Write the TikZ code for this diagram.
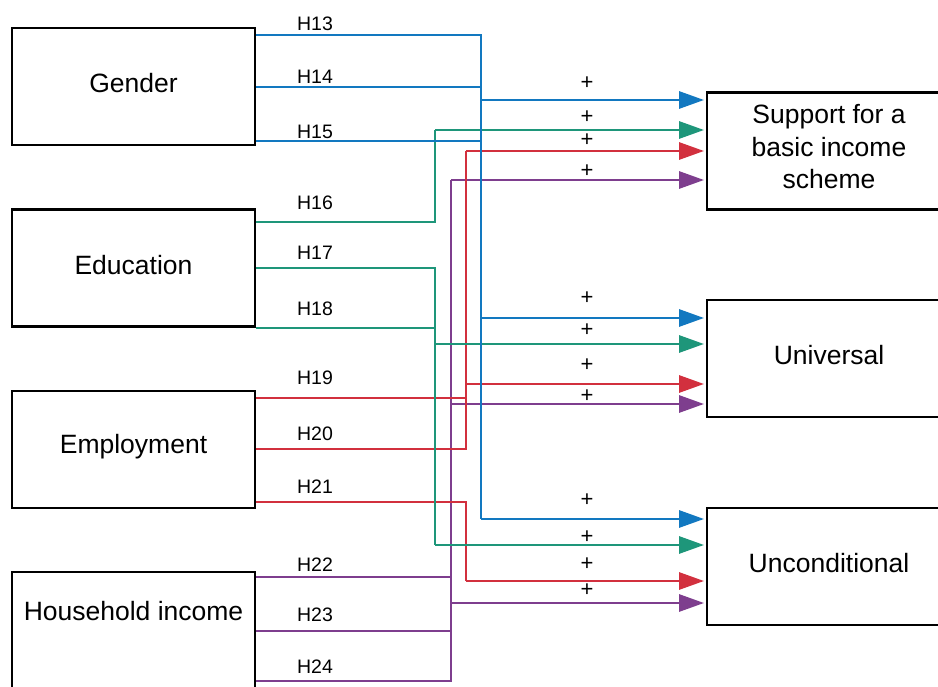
\documentclass[tikz,border=0pt]{standalone}
\usepackage{fontspec}
\setmainfont{Liberation Sans}
\usetikzlibrary{arrows.meta}
\definecolor{cblue}{RGB}{18,120,192}
\definecolor{cgreen}{RGB}{30,150,122}
\definecolor{cred}{RGB}{210,48,62}
\definecolor{cpurple}{RGB}{126,62,142}
\begin{document}
\begin{tikzpicture}[x=1pt,y=-1pt,
  box/.style={draw=black,line width=2.9pt,minimum width=243pt,minimum height=117pt,inner sep=0pt},
  btext/.style={inner sep=0pt,font=\fontsize{26.5}{32.5}\selectfont,align=center},
  hlab/.style={font=\fontsize{19.5}{22}\selectfont,inner sep=0pt},
  plus/.style={font=\fontsize{22}{24}\selectfont,inner sep=0pt},
  conn/.style={line width=2.9pt},
  arr/.style={conn,-{Triangle[length=25pt,width=17pt]},shorten >=1.5pt}]
\clip (0,0) rectangle (938,687);
\fill[white] (0,0) rectangle (938,687);
% boxes
\node[box] (gender) at (133.5,86.5) {};
\node[box] (educ) at (133.5,268) {};
\node[box] (employ) at (133.5,449.5) {};
\node[box,minimum height=140pt] (house) at (133.5,642) {};
\node[box,minimum width=244pt] (support) at (829,151) {};
\node[box,minimum width=244pt] (universal) at (829,358.5) {};
\node[box,minimum width=244pt] (uncond) at (829,566.5) {};
% box texts
\node[btext] (gendertext) at (133.5,83.5) {Gender};
\node[btext] (eductext) at (133.5,265) {Education};
\node[btext] (employtext) at (133.5,446.5) {Employment};
\node[btext] (housetext) at (133.5,611) {Household income};
\node[btext] (supporttext) at (829,147) {Support for a\\basic income\\scheme};
\node[btext] (universaltext) at (829,355.5) {Universal};
\node[btext] (uncondtext) at (829,563.5) {Unconditional};
% purple
\begin{scope}[cpurple]
\draw[conn] (house.east |- 0,577) -- (451,577);
\draw[conn] (house.east |- 0,631) -- (451,631);
\draw[conn] (house.east |- 0,681) -- (451,681) -- (451,180);
\draw[arr] (451,180) -- (support.west |- 0,180);
\draw[arr] (451,404) -- (universal.west |- 0,404);
\draw[arr] (451,603) -- (uncond.west |- 0,603);
\end{scope}
% red
\begin{scope}[cred]
\draw[conn] (employ.east |- 0,398) -- (466,398);
\draw[conn] (employ.east |- 0,449) -- (466,449) -- (466,151);
\draw[arr] (466,151) -- (support.west |- 0,151);
\draw[arr] (466,384) -- (universal.west |- 0,384);
\draw[conn] (employ.east |- 0,502) -- (466,502) -- (466,581);
\draw[arr] (466,581) -- (uncond.west |- 0,581);
\end{scope}
% green
\begin{scope}[cgreen]
\draw[conn] (educ.east |- 0,222) -- (435,222) -- (435,130);
\draw[arr] (435,130) -- (support.west |- 0,130);
\draw[conn] (educ.east |- 0,268) -- (435,268) -- (435,545);
\draw[arr] (435,545) -- (uncond.west |- 0,545);
\draw[conn] (educ.east |- 0,328) -- (435,328);
\draw[arr] (435,344) -- (universal.west |- 0,344);
\end{scope}
% blue
\begin{scope}[cblue]
\draw[conn] (gender.east |- 0,35) -- (481,35) -- (481,519);
\draw[conn] (gender.east |- 0,87) -- (481,87);
\draw[conn] (gender.east |- 0,141) -- (481,141);
\draw[arr] (481,100) -- (support.west |- 0,100);
\draw[arr] (481,318) -- (universal.west |- 0,318);
\draw[arr] (481,519) -- (uncond.west |- 0,519);
\end{scope}
% H labels
\node[hlab] (h13) at (315,23.5) {H13};
\node[hlab] (h14) at (315,76.5) {H14};
\node[hlab] (h15) at (315,131.5) {H15};
\node[hlab] (h16) at (315,203) {H16};
\node[hlab] (h17) at (315,252.5) {H17};
\node[hlab] (h18) at (315,309) {H18};
\node[hlab] (h19) at (315,378) {H19};
\node[hlab] (h20) at (315,434) {H20};
\node[hlab] (h21) at (315,486.5) {H21};
\node[hlab] (h22) at (315,565) {H22};
\node[hlab] (h23) at (315,615) {H23};
\node[hlab] (h24) at (315,667) {H24};
% plus signs
\node[plus] (p1) at (587,83) {+};
\node[plus] (p2) at (587,117.5) {+};
\node[plus] (p3) at (587,140) {+};
\node[plus] (p4) at (587,171) {+};
\node[plus] (p5) at (587,298) {+};
\node[plus] (p6) at (587,330) {+};
\node[plus] (p7) at (587,365) {+};
\node[plus] (p8) at (587,396) {+};
\node[plus] (p9) at (587,500.5) {+};
\node[plus] (p10) at (587,537) {+};
\node[plus] (p11) at (587,564) {+};
\node[plus] (p12) at (587,590.5) {+};
\end{tikzpicture}
\end{document}
